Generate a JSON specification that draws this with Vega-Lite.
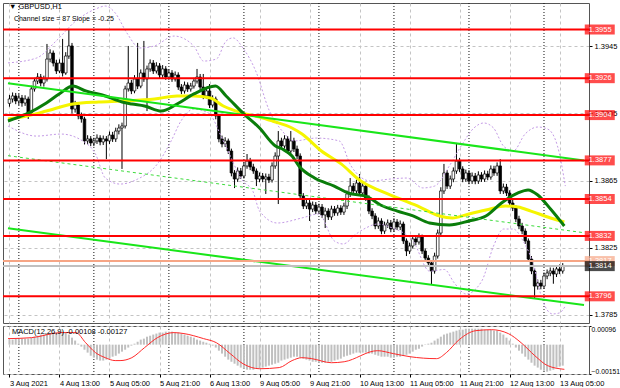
{
"$schema": "https://vega.github.io/schema/vega-lite/v6.json",
"background": "white",
"padding": {"left": 1, "top": 2, "right": 4, "bottom": 0},
"spacing": 1,
"config": {"view": {"stroke": "#555"}, "font": "Liberation Sans", "axis": {"labelFont": "Liberation Sans", "labelFontSize": 7.5, "labelColor": "#000", "tickColor": "#000"}},
"datasets": {
"days": [{"i":3},{"i":27},{"i":51},{"i":75},{"i":99},{"i":123},{"i":147},{"i":171}],
"candles": [
{"i":0,"o":1.39110,"h":1.39160,"l":1.39090,"c":1.39136},
{"i":1,"o":1.39136,"h":1.39175,"l":1.39115,"c":1.39154},
{"i":2,"o":1.39154,"h":1.39172,"l":1.39105,"c":1.39124},
{"i":3,"o":1.39124,"h":1.39165,"l":1.39100,"c":1.39142},
{"i":4,"o":1.39142,"h":1.39160,"l":1.39090,"c":1.39112},
{"i":5,"o":1.39112,"h":1.39158,"l":1.39095,"c":1.39136},
{"i":6,"o":1.39136,"h":1.39150,"l":1.39017,"c":1.39052},
{"i":7,"o":1.39052,"h":1.39215,"l":1.39040,"c":1.39196},
{"i":8,"o":1.39196,"h":1.39262,"l":1.39180,"c":1.39243},
{"i":9,"o":1.39243,"h":1.39290,"l":1.39225,"c":1.39267},
{"i":10,"o":1.39267,"h":1.39285,"l":1.39212,"c":1.39231},
{"i":11,"o":1.39231,"h":1.39275,"l":1.39210,"c":1.39255},
{"i":12,"o":1.39255,"h":1.39464,"l":1.39240,"c":1.39374},
{"i":13,"o":1.39374,"h":1.39432,"l":1.39355,"c":1.39410},
{"i":14,"o":1.39410,"h":1.39425,"l":1.39330,"c":1.39350},
{"i":15,"o":1.39350,"h":1.39370,"l":1.39285,"c":1.39303},
{"i":16,"o":1.39303,"h":1.39372,"l":1.39290,"c":1.39350},
{"i":17,"o":1.39350,"h":1.39494,"l":1.39270,"c":1.39291},
{"i":18,"o":1.39291,"h":1.39415,"l":1.39280,"c":1.39392},
{"i":19,"o":1.39392,"h":1.39553,"l":1.39375,"c":1.39452},
{"i":20,"o":1.39452,"h":1.39470,"l":1.39050,"c":1.39076},
{"i":21,"o":1.39076,"h":1.39125,"l":1.39055,"c":1.39100},
{"i":22,"o":1.39100,"h":1.39118,"l":1.39015,"c":1.39035},
{"i":23,"o":1.39035,"h":1.39055,"l":1.38995,"c":1.39017},
{"i":24,"o":1.39017,"h":1.39030,"l":1.38865,"c":1.38886},
{"i":25,"o":1.38886,"h":1.38920,"l":1.38866,"c":1.38898},
{"i":26,"o":1.38898,"h":1.38915,"l":1.38855,"c":1.38874},
{"i":27,"o":1.38874,"h":1.38905,"l":1.38855,"c":1.38886},
{"i":28,"o":1.38886,"h":1.38925,"l":1.38868,"c":1.38903},
{"i":29,"o":1.38903,"h":1.38920,"l":1.38860,"c":1.38880},
{"i":30,"o":1.38880,"h":1.38918,"l":1.38862,"c":1.38898},
{"i":31,"o":1.38898,"h":1.38915,"l":1.38778,"c":1.38886},
{"i":32,"o":1.38886,"h":1.38942,"l":1.38868,"c":1.38921},
{"i":33,"o":1.38921,"h":1.38940,"l":1.38880,"c":1.38898},
{"i":34,"o":1.38898,"h":1.38965,"l":1.38880,"c":1.38945},
{"i":35,"o":1.38945,"h":1.38985,"l":1.38925,"c":1.38963},
{"i":36,"o":1.38963,"h":1.38995,"l":1.38719,"c":1.38975},
{"i":37,"o":1.38975,"h":1.39215,"l":1.38960,"c":1.39196},
{"i":38,"o":1.39196,"h":1.39452,"l":1.39180,"c":1.39231},
{"i":39,"o":1.39231,"h":1.39250,"l":1.39165,"c":1.39184},
{"i":40,"o":1.39184,"h":1.39278,"l":1.39170,"c":1.39255},
{"i":41,"o":1.39255,"h":1.39470,"l":1.39195,"c":1.39213},
{"i":42,"o":1.39213,"h":1.39312,"l":1.39200,"c":1.39291},
{"i":43,"o":1.39291,"h":1.39482,"l":1.39238,"c":1.39255},
{"i":44,"o":1.39255,"h":1.39335,"l":1.39064,"c":1.39315},
{"i":45,"o":1.39315,"h":1.39372,"l":1.39298,"c":1.39350},
{"i":46,"o":1.39350,"h":1.39368,"l":1.39285,"c":1.39303},
{"i":47,"o":1.39303,"h":1.39355,"l":1.39288,"c":1.39333},
{"i":48,"o":1.39333,"h":1.39350,"l":1.39260,"c":1.39279},
{"i":49,"o":1.39279,"h":1.39338,"l":1.39262,"c":1.39315},
{"i":50,"o":1.39315,"h":1.39332,"l":1.39250,"c":1.39267},
{"i":51,"o":1.39267,"h":1.39312,"l":1.39250,"c":1.39291},
{"i":52,"o":1.39291,"h":1.39308,"l":1.39238,"c":1.39255},
{"i":53,"o":1.39255,"h":1.39300,"l":1.39240,"c":1.39279},
{"i":54,"o":1.39279,"h":1.39295,"l":1.39190,"c":1.39207},
{"i":55,"o":1.39207,"h":1.39225,"l":1.39165,"c":1.39184},
{"i":56,"o":1.39184,"h":1.39240,"l":1.39168,"c":1.39219},
{"i":57,"o":1.39219,"h":1.39235,"l":1.39178,"c":1.39196},
{"i":58,"o":1.39196,"h":1.39232,"l":1.39180,"c":1.39213},
{"i":59,"o":1.39213,"h":1.39262,"l":1.39198,"c":1.39243},
{"i":60,"o":1.39243,"h":1.39315,"l":1.39228,"c":1.39267},
{"i":61,"o":1.39267,"h":1.39285,"l":1.39190,"c":1.39207},
{"i":62,"o":1.39207,"h":1.39285,"l":1.39135,"c":1.39154},
{"i":63,"o":1.39154,"h":1.39205,"l":1.39138,"c":1.39184},
{"i":64,"o":1.39184,"h":1.39225,"l":1.39082,"c":1.39100},
{"i":65,"o":1.39100,"h":1.39158,"l":1.39085,"c":1.39136},
{"i":66,"o":1.39136,"h":1.39150,"l":1.39015,"c":1.39035},
{"i":67,"o":1.39035,"h":1.39048,"l":1.38878,"c":1.38898},
{"i":68,"o":1.38898,"h":1.38918,"l":1.38848,"c":1.38868},
{"i":69,"o":1.38868,"h":1.38908,"l":1.38850,"c":1.38886},
{"i":70,"o":1.38886,"h":1.38900,"l":1.38808,"c":1.38826},
{"i":71,"o":1.38826,"h":1.38840,"l":1.38675,"c":1.38695},
{"i":72,"o":1.38695,"h":1.38712,"l":1.38605,"c":1.38659},
{"i":73,"o":1.38659,"h":1.38728,"l":1.38642,"c":1.38707},
{"i":74,"o":1.38707,"h":1.38725,"l":1.38660,"c":1.38677},
{"i":75,"o":1.38677,"h":1.38758,"l":1.38662,"c":1.38737},
{"i":76,"o":1.38737,"h":1.38808,"l":1.38720,"c":1.38766},
{"i":77,"o":1.38766,"h":1.38785,"l":1.38712,"c":1.38731},
{"i":78,"o":1.38731,"h":1.38750,"l":1.38690,"c":1.38707},
{"i":79,"o":1.38707,"h":1.38722,"l":1.38617,"c":1.38659},
{"i":80,"o":1.38659,"h":1.38698,"l":1.38640,"c":1.38677},
{"i":81,"o":1.38677,"h":1.38695,"l":1.38640,"c":1.38659},
{"i":82,"o":1.38659,"h":1.38692,"l":1.38570,"c":1.38671},
{"i":83,"o":1.38671,"h":1.38690,"l":1.38635,"c":1.38653},
{"i":84,"o":1.38653,"h":1.38758,"l":1.38638,"c":1.38737},
{"i":85,"o":1.38737,"h":1.38818,"l":1.38720,"c":1.38796},
{"i":86,"o":1.38796,"h":1.38945,"l":1.38510,"c":1.38886},
{"i":87,"o":1.38886,"h":1.38905,"l":1.38838,"c":1.38856},
{"i":88,"o":1.38856,"h":1.38920,"l":1.38840,"c":1.38898},
{"i":89,"o":1.38898,"h":1.38915,"l":1.38808,"c":1.38826},
{"i":90,"o":1.38826,"h":1.38945,"l":1.38810,"c":1.38886},
{"i":91,"o":1.38886,"h":1.38905,"l":1.38820,"c":1.38838},
{"i":92,"o":1.38838,"h":1.38858,"l":1.38778,"c":1.38796},
{"i":93,"o":1.38796,"h":1.38812,"l":1.38540,"c":1.38558},
{"i":94,"o":1.38558,"h":1.38575,"l":1.38480,"c":1.38498},
{"i":95,"o":1.38498,"h":1.38538,"l":1.38480,"c":1.38516},
{"i":96,"o":1.38516,"h":1.38535,"l":1.38409,"c":1.38480},
{"i":97,"o":1.38480,"h":1.38525,"l":1.38462,"c":1.38504},
{"i":98,"o":1.38504,"h":1.38522,"l":1.38450,"c":1.38468},
{"i":99,"o":1.38468,"h":1.38512,"l":1.38450,"c":1.38492},
{"i":100,"o":1.38492,"h":1.38510,"l":1.38428,"c":1.38445},
{"i":101,"o":1.38445,"h":1.38488,"l":1.38367,"c":1.38468},
{"i":102,"o":1.38468,"h":1.38485,"l":1.38415,"c":1.38433},
{"i":103,"o":1.38433,"h":1.38500,"l":1.38415,"c":1.38480},
{"i":104,"o":1.38480,"h":1.38498,"l":1.38440,"c":1.38457},
{"i":105,"o":1.38457,"h":1.38505,"l":1.38440,"c":1.38486},
{"i":106,"o":1.38486,"h":1.38503,"l":1.38445,"c":1.38462},
{"i":107,"o":1.38462,"h":1.38518,"l":1.38445,"c":1.38498},
{"i":108,"o":1.38498,"h":1.38590,"l":1.38480,"c":1.38570},
{"i":109,"o":1.38570,"h":1.38665,"l":1.38552,"c":1.38617},
{"i":110,"o":1.38617,"h":1.38635,"l":1.38570,"c":1.38588},
{"i":111,"o":1.38588,"h":1.38655,"l":1.38572,"c":1.38635},
{"i":112,"o":1.38635,"h":1.38689,"l":1.38558,"c":1.38576},
{"i":113,"o":1.38576,"h":1.38638,"l":1.38560,"c":1.38617},
{"i":114,"o":1.38617,"h":1.38632,"l":1.38528,"c":1.38546},
{"i":115,"o":1.38546,"h":1.38562,"l":1.38450,"c":1.38468},
{"i":116,"o":1.38468,"h":1.38485,"l":1.38420,"c":1.38439},
{"i":117,"o":1.38439,"h":1.38455,"l":1.38360,"c":1.38379},
{"i":118,"o":1.38379,"h":1.38430,"l":1.38362,"c":1.38409},
{"i":119,"o":1.38409,"h":1.38425,"l":1.38330,"c":1.38349},
{"i":120,"o":1.38349,"h":1.38405,"l":1.38332,"c":1.38385},
{"i":121,"o":1.38385,"h":1.38418,"l":1.38368,"c":1.38397},
{"i":122,"o":1.38397,"h":1.38415,"l":1.38342,"c":1.38361},
{"i":123,"o":1.38361,"h":1.38425,"l":1.38345,"c":1.38403},
{"i":124,"o":1.38403,"h":1.38420,"l":1.38355,"c":1.38373},
{"i":125,"o":1.38373,"h":1.38412,"l":1.38355,"c":1.38391},
{"i":126,"o":1.38391,"h":1.38405,"l":1.38272,"c":1.38290},
{"i":127,"o":1.38290,"h":1.38305,"l":1.38200,"c":1.38230},
{"i":128,"o":1.38230,"h":1.38280,"l":1.38212,"c":1.38260},
{"i":129,"o":1.38260,"h":1.38322,"l":1.38245,"c":1.38302},
{"i":130,"o":1.38302,"h":1.38320,"l":1.38265,"c":1.38284},
{"i":131,"o":1.38284,"h":1.38335,"l":1.38268,"c":1.38313},
{"i":132,"o":1.38313,"h":1.38328,"l":1.38212,"c":1.38230},
{"i":133,"o":1.38230,"h":1.38245,"l":1.38170,"c":1.38188},
{"i":134,"o":1.38188,"h":1.38205,"l":1.38140,"c":1.38159},
{"i":135,"o":1.38159,"h":1.38175,"l":1.38033,"c":1.38111},
{"i":136,"o":1.38111,"h":1.38220,"l":1.38095,"c":1.38200},
{"i":137,"o":1.38200,"h":1.38358,"l":1.38185,"c":1.38337},
{"i":138,"o":1.38337,"h":1.38610,"l":1.38320,"c":1.38588},
{"i":139,"o":1.38588,"h":1.38749,"l":1.38570,"c":1.38695},
{"i":140,"o":1.38695,"h":1.38712,"l":1.38600,"c":1.38617},
{"i":141,"o":1.38617,"h":1.38680,"l":1.38600,"c":1.38659},
{"i":142,"o":1.38659,"h":1.38728,"l":1.38640,"c":1.38707},
{"i":143,"o":1.38707,"h":1.38874,"l":1.38690,"c":1.38766},
{"i":144,"o":1.38766,"h":1.38785,"l":1.38700,"c":1.38719},
{"i":145,"o":1.38719,"h":1.38735,"l":1.38640,"c":1.38659},
{"i":146,"o":1.38659,"h":1.38715,"l":1.38642,"c":1.38695},
{"i":147,"o":1.38695,"h":1.38712,"l":1.38628,"c":1.38647},
{"i":148,"o":1.38647,"h":1.38698,"l":1.38630,"c":1.38677},
{"i":149,"o":1.38677,"h":1.38695,"l":1.38628,"c":1.38647},
{"i":150,"o":1.38647,"h":1.38705,"l":1.38630,"c":1.38683},
{"i":151,"o":1.38683,"h":1.38700,"l":1.38642,"c":1.38659},
{"i":152,"o":1.38659,"h":1.38710,"l":1.38642,"c":1.38689},
{"i":153,"o":1.38689,"h":1.38708,"l":1.38652,"c":1.38671},
{"i":154,"o":1.38671,"h":1.38740,"l":1.38655,"c":1.38719},
{"i":155,"o":1.38719,"h":1.38738,"l":1.38678,"c":1.38695},
{"i":156,"o":1.38695,"h":1.38758,"l":1.38678,"c":1.38737},
{"i":157,"o":1.38737,"h":1.38778,"l":1.38570,"c":1.38588},
{"i":158,"o":1.38588,"h":1.38632,"l":1.38570,"c":1.38611},
{"i":159,"o":1.38611,"h":1.38630,"l":1.38558,"c":1.38576},
{"i":160,"o":1.38576,"h":1.38592,"l":1.38498,"c":1.38516},
{"i":161,"o":1.38516,"h":1.38535,"l":1.38468,"c":1.38486},
{"i":162,"o":1.38486,"h":1.38502,"l":1.38402,"c":1.38421},
{"i":163,"o":1.38421,"h":1.38440,"l":1.38360,"c":1.38379},
{"i":164,"o":1.38379,"h":1.38398,"l":1.38330,"c":1.38349},
{"i":165,"o":1.38349,"h":1.38365,"l":1.38272,"c":1.38290},
{"i":166,"o":1.38290,"h":1.38305,"l":1.38165,"c":1.38182},
{"i":167,"o":1.38182,"h":1.38200,"l":1.38092,"c":1.38111},
{"i":168,"o":1.38111,"h":1.38128,"l":1.37950,"c":1.38021},
{"i":169,"o":1.38021,"h":1.38060,"l":1.38000,"c":1.38039},
{"i":170,"o":1.38039,"h":1.38058,"l":1.38002,"c":1.38021},
{"i":171,"o":1.38021,"h":1.38102,"l":1.38005,"c":1.38081},
{"i":172,"o":1.38081,"h":1.38120,"l":1.38062,"c":1.38099},
{"i":173,"o":1.38099,"h":1.38132,"l":1.38080,"c":1.38111},
{"i":174,"o":1.38111,"h":1.38130,"l":1.38035,"c":1.38093},
{"i":175,"o":1.38093,"h":1.38145,"l":1.38075,"c":1.38123},
{"i":176,"o":1.38123,"h":1.38150,"l":1.38092,"c":1.38111},
{"i":177,"o":1.38111,"h":1.38158,"l":1.38095,"c":1.38140}
],
"bands": [
{"b":"u","i":-0.47,"p":1.39351},{"b":"u","i":8.65,"p":1.3938},{"b":"u","i":14.94,"p":1.39482},{"b":"u","i":21.23,"p":1.39601},{"b":"u","i":27.52,"p":1.39672},{"b":"u","i":30.66,"p":1.3969},{"b":"u","i":33.81,"p":1.39649},{"b":"u","i":37.58,"p":1.39529},{"b":"u","i":41.67,"p":1.3944},{"b":"u","i":46.38,"p":1.39452},{"b":"u","i":52.67,"p":1.39511},{"b":"u","i":58.96,"p":1.39452},{"b":"u","i":62.11,"p":1.39362},{"b":"u","i":66.19,"p":1.39374},{"b":"u","i":69.34,"p":1.39482},{"b":"u","i":71.54,"p":1.395},{"b":"u","i":74.69,"p":1.3944},{"b":"u","i":78.77,"p":1.39303},{"b":"u","i":83.18,"p":1.39064},{"b":"u","i":87.26,"p":1.38945},{"b":"u","i":91.04,"p":1.38886},{"b":"u","i":98.27,"p":1.38903},{"b":"u","i":105.5,"p":1.38886},{"b":"u","i":109.28,"p":1.38737},{"b":"u","i":115.57,"p":1.38647},{"b":"u","i":121.86,"p":1.38659},{"b":"u","i":127.2,"p":1.38665},{"b":"u","i":132.23,"p":1.38606},{"b":"u","i":136.0,"p":1.38617},{"b":"u","i":140.72,"p":1.38737},{"b":"u","i":144.5,"p":1.38856},{"b":"u","i":148.58,"p":1.38963},{"b":"u","i":151.73,"p":1.38993},{"b":"u","i":154.87,"p":1.38963},{"b":"u","i":158.02,"p":1.38856},{"b":"u","i":161.16,"p":1.38826},{"b":"u","i":164.94,"p":1.38927},{"b":"u","i":169.03,"p":1.38969},{"b":"u","i":172.17,"p":1.38957},{"b":"u","i":175.31,"p":1.38856},{"b":"u","i":177.83,"p":1.38617},
{"b":"l","i":-0.47,"p":1.38975},{"b":"l","i":8.65,"p":1.38915},{"b":"l","i":16.51,"p":1.38927},{"b":"l","i":23.43,"p":1.38886},{"b":"l","i":27.52,"p":1.38808},{"b":"l","i":30.66,"p":1.38665},{"b":"l","i":35.38,"p":1.38629},{"b":"l","i":41.04,"p":1.38659},{"b":"l","i":47.33,"p":1.38749},{"b":"l","i":51.73,"p":1.38886},{"b":"l","i":54.87,"p":1.39005},{"b":"l","i":58.96,"p":1.39076},{"b":"l","i":63.68,"p":1.39052},{"b":"l","i":68.4,"p":1.38886},{"b":"l","i":74.69,"p":1.38647},{"b":"l","i":77.83,"p":1.38588},{"b":"l","i":80.03,"p":1.38468},{"b":"l","i":85.69,"p":1.38397},{"b":"l","i":93.55,"p":1.38427},{"b":"l","i":98.9,"p":1.38451},{"b":"l","i":103.93,"p":1.3829},{"b":"l","i":106.76,"p":1.38272},{"b":"l","i":110.85,"p":1.38331},{"b":"l","i":113.99,"p":1.38367},{"b":"l","i":117.77,"p":1.38391},{"b":"l","i":122.48,"p":1.38367},{"b":"l","i":129.09,"p":1.3829},{"b":"l","i":134.43,"p":1.38110},{"b":"l","i":139.15,"p":1.38120},{"b":"l","i":142.3,"p":1.38040},{"b":"l","i":146.07,"p":1.37974},{"b":"l","i":151.1,"p":1.38051},{"b":"l","i":154.87,"p":1.3826},{"b":"l","i":158.02,"p":1.38361},{"b":"l","i":161.16,"p":1.38361},{"b":"l","i":164.31,"p":1.3829},{"b":"l","i":167.45,"p":1.38159},{"b":"l","i":170.6,"p":1.37932},{"b":"l","i":173.74,"p":1.37855},{"b":"l","i":175.94,"p":1.37861},{"b":"l","i":177.83,"p":1.37902}
],
"maSlow": [
{"i":-0.47,"p":1.39017},{"i":5.5,"p":1.39035},{"i":11.8,"p":1.39064},{"i":20.3,"p":1.39106},{"i":28.5,"p":1.39118},{"i":36.0,"p":1.39124},{"i":46.4,"p":1.39136},{"i":53.6,"p":1.39154},{"i":59.0,"p":1.39154},{"i":64.3,"p":1.39142},{"i":68.4,"p":1.39094},{"i":74.7,"p":1.39052},{"i":80.0,"p":1.39029},{"i":84.1,"p":1.39005},{"i":90.4,"p":1.38963},{"i":93.6,"p":1.38927},{"i":99.8,"p":1.38826},{"i":106.1,"p":1.38749},{"i":112.4,"p":1.38647},{"i":118.7,"p":1.38588},{"i":125.0,"p":1.3854},{"i":131.3,"p":1.38492},{"i":137.6,"p":1.38439},{"i":141.7,"p":1.38427},{"i":147.0,"p":1.38451},{"i":152.4,"p":1.38474},{"i":158.7,"p":1.38498},{"i":162.7,"p":1.38492},{"i":166.8,"p":1.38468},{"i":173.1,"p":1.38427},{"i":177.5,"p":1.38403}
],
"maFast": [
{"i":-0.47,"p":1.39005},{"i":5.5,"p":1.39047},{"i":11.8,"p":1.39112},{"i":15.9,"p":1.39166},{"i":20.3,"p":1.39213},{"i":24.4,"p":1.39184},{"i":30.7,"p":1.39154},{"i":36.0,"p":1.39118},{"i":39.2,"p":1.39106},{"i":43.2,"p":1.39094},{"i":48.6,"p":1.39064},{"i":53.6,"p":1.39106},{"i":59.0,"p":1.39166},{"i":65.9,"p":1.39213},{"i":69.3,"p":1.39154},{"i":74.7,"p":1.39052},{"i":80.0,"p":1.38963},{"i":85.1,"p":1.38856},{"i":87.3,"p":1.38838},{"i":90.4,"p":1.38796},{"i":92.6,"p":1.38737},{"i":97.6,"p":1.38665},{"i":103.9,"p":1.38617},{"i":108.3,"p":1.38576},{"i":114.6,"p":1.38552},{"i":118.7,"p":1.38504},{"i":124.1,"p":1.38468},{"i":129.1,"p":1.38439},{"i":134.4,"p":1.38397},{"i":140.7,"p":1.38385},{"i":147.0,"p":1.38409},{"i":152.4,"p":1.38439},{"i":157.4,"p":1.38516},{"i":162.7,"p":1.38576},{"i":165.9,"p":1.38594},{"i":169.0,"p":1.38564},{"i":173.1,"p":1.3848},{"i":177.5,"p":1.38379}
],
"channel": [
{"ln":"up","i":-0.47,"p":1.39230},{"ln":"up","i":183.8,"p":1.38769},
{"ln":"lo","i":-0.47,"p":1.38365},{"ln":"lo","i":183.8,"p":1.37908},
{"ln":"mid","i":-0.47,"p":1.38798},{"ln":"mid","i":183.8,"p":1.38339}
],
"levels": [
{"p":1.3955,"k":"level"},{"p":1.3926,"k":"level"},{"p":1.3904,"k":"level"},{"p":1.3877,"k":"level"},{"p":1.3854,"k":"level"},{"p":1.3832,"k":"level"},{"p":1.3796,"k":"level"},{"p":1.3817,"k":"ask"},{"p":1.3814,"k":"bid"}
],
"hist": [
{"i":0,"v":0.00026},{"i":1,"v":0.00026},{"i":2,"v":0.00031},{"i":3,"v":0.00031},{"i":4,"v":0.00031},{"i":5,"v":0.00031},{"i":6,"v":0.00031},{"i":7,"v":0.00036},{"i":8,"v":0.00041},
{"i":9,"v":0.00046},{"i":10,"v":0.00052},{"i":11,"v":0.00052},{"i":12,"v":0.00057},{"i":13,"v":0.00057},{"i":14,"v":0.00062},{"i":15,"v":0.00062},{"i":16,"v":0.00067},{"i":17,"v":0.00067},{"i":18,"v":0.00062},
{"i":19,"v":0.00052},{"i":20,"v":0.00036},{"i":21,"v":0.00021},{"i":22,"v":0.00005},
{"i":23,"v":-0.0001},{"i":24,"v":-0.00026},{"i":25,"v":-0.00041},{"i":26,"v":-0.00057},{"i":27,"v":-0.00067},{"i":28,"v":-0.00077},{"i":29,"v":-0.00082},
{"i":30,"v":-0.00082},{"i":31,"v":-0.00077},{"i":32,"v":-0.00072},{"i":33,"v":-0.00062},{"i":34,"v":-0.00057},
{"i":35,"v":-0.00046},{"i":36,"v":-0.00036},{"i":37,"v":-0.00026},{"i":38,"v":-0.00015},{"i":39,"v":-0.00005},
{"i":40,"v":0.00005},{"i":41,"v":0.00015},{"i":42,"v":0.00026},{"i":43,"v":0.00031},{"i":44,"v":0.00041},{"i":45,"v":0.00046},{"i":46,"v":0.00052},
{"i":47,"v":0.00057},{"i":48,"v":0.00062},{"i":49,"v":0.00062},{"i":50,"v":0.00067},{"i":51,"v":0.00067},{"i":52,"v":0.00067},
{"i":53,"v":0.00062},{"i":54,"v":0.00062},{"i":55,"v":0.00057},{"i":56,"v":0.00052},{"i":57,"v":0.00046},{"i":58,"v":0.00041},{"i":59,"v":0.00036},{"i":60,"v":0.00026},{"i":61,"v":0.00021},{"i":62,"v":0.00015},
{"i":63,"v":0.0001},{"i":64,"v":0.00005},
{"i":65,"v":-0.00005},{"i":66,"v":-0.00015},{"i":67,"v":-0.00031},{"i":68,"v":-0.00046},{"i":69,"v":-0.00062},{"i":70,"v":-0.00077},{"i":71,"v":-0.00088},{"i":72,"v":-0.00098},{"i":73,"v":-0.00108},{"i":74,"v":-0.00118},{"i":75,"v":-0.00124},
{"i":76,"v":-0.00129},{"i":77,"v":-0.00129},{"i":78,"v":-0.00129},{"i":79,"v":-0.00124},{"i":80,"v":-0.00124},{"i":81,"v":-0.00118},
{"i":82,"v":-0.00113},{"i":83,"v":-0.00108},{"i":84,"v":-0.00103},{"i":85,"v":-0.00098},{"i":86,"v":-0.00093},{"i":87,"v":-0.00082},{"i":88,"v":-0.00077},{"i":89,"v":-0.00072},
{"i":90,"v":-0.00067},{"i":91,"v":-0.00062},{"i":92,"v":-0.00062},{"i":93,"v":-0.00067},{"i":94,"v":-0.00072},{"i":95,"v":-0.00077},{"i":96,"v":-0.00082},
{"i":97,"v":-0.00088},{"i":98,"v":-0.00088},{"i":99,"v":-0.00093},{"i":100,"v":-0.00093},{"i":101,"v":-0.00093},{"i":102,"v":-0.00088},{"i":103,"v":-0.00088},
{"i":104,"v":-0.00082},{"i":105,"v":-0.00077},{"i":106,"v":-0.00072},{"i":107,"v":-0.00062},{"i":108,"v":-0.00057},{"i":109,"v":-0.00052},{"i":110,"v":-0.00046},{"i":111,"v":-0.00041},{"i":112,"v":-0.00041},
{"i":113,"v":-0.00041},{"i":114,"v":-0.00041},{"i":115,"v":-0.00046},{"i":116,"v":-0.00046},{"i":117,"v":-0.00052},{"i":118,"v":-0.00057},
{"i":119,"v":-0.00062},{"i":120,"v":-0.00062},{"i":121,"v":-0.00062},{"i":122,"v":-0.00067},{"i":123,"v":-0.00067},{"i":124,"v":-0.00062},{"i":125,"v":-0.00062},
{"i":126,"v":-0.00057},{"i":127,"v":-0.00052},{"i":128,"v":-0.00046},{"i":129,"v":-0.00036},{"i":130,"v":-0.00026},{"i":131,"v":-0.00021},{"i":132,"v":-0.0001},
{"i":133,"v":0.00002},{"i":134,"v":0.00005},{"i":135,"v":0.0001},{"i":136,"v":0.00021},{"i":137,"v":0.00031},{"i":138,"v":0.00041},{"i":139,"v":0.00052},{"i":140,"v":0.00057},{"i":141,"v":0.00062},{"i":142,"v":0.00067},{"i":143,"v":0.00072},
{"i":144,"v":0.00077},{"i":145,"v":0.00077},{"i":146,"v":0.00082},{"i":147,"v":0.00082},{"i":148,"v":0.00082},{"i":149,"v":0.00082},{"i":150,"v":0.00082},{"i":151,"v":0.00082},{"i":152,"v":0.00077},{"i":153,"v":0.00077},{"i":154,"v":0.00077},{"i":155,"v":0.00072},{"i":156,"v":0.00072},
{"i":157,"v":0.00062},{"i":158,"v":0.00052},{"i":159,"v":0.00036},{"i":160,"v":0.00021},{"i":161,"v":0.00005},
{"i":162,"v":-0.00015},{"i":163,"v":-0.00031},{"i":164,"v":-0.00046},{"i":165,"v":-0.00062},{"i":166,"v":-0.00077},{"i":167,"v":-0.00093},{"i":168,"v":-0.00108},{"i":169,"v":-0.00118},{"i":170,"v":-0.00129},
{"i":171,"v":-0.00134},{"i":172,"v":-0.00139},{"i":173,"v":-0.00134},{"i":174,"v":-0.00129},{"i":175,"v":-0.00118},
{"i":176,"v":-0.00113},{"i":177,"v":-0.00108}
],
"signal": [
{"i":-0.47,"v":0.00031},{"i":7.08,"v":0.00036},{"i":16.51,"v":0.00062},{"i":21.23,"v":0.00062},{"i":24.37,"v":0.0001},{"i":27.52,"v":-0.00041},{"i":30.66,"v":-0.00067},{"i":33.81,"v":-0.00082},{"i":35.38,"v":-0.00082},{"i":39.15,"v":-0.00067},{"i":43.24,"v":-0.00015},{"i":47.33,"v":0.00036},{"i":52.67,"v":0.00062},{"i":55.82,"v":0.00057},{"i":62.11,"v":0.00031},{"i":66.19,"v":0.0001},{"i":70.6,"v":-0.00046},{"i":74.69,"v":-0.00098},{"i":80.03,"v":-0.00124},{"i":86.32,"v":-0.00118},{"i":90.41,"v":-0.00082},{"i":93.55,"v":-0.00067},{"i":96.7,"v":-0.00072},{"i":102.99,"v":-0.00093},{"i":107.08,"v":-0.00088},{"i":117.77,"v":-0.00031},{"i":122.8,"v":-0.00046},{"i":128.14,"v":-0.00062},{"i":136.64,"v":-0.00072},{"i":139.78,"v":-0.00041},{"i":143.87,"v":0.00026},{"i":149.21,"v":0.00072},{"i":154.25,"v":0.00077},{"i":159.59,"v":0.00057},{"i":163.68,"v":0.0001},{"i":168.08,"v":-0.00057},{"i":172.17,"v":-0.00108},{"i":177.52,"v":-0.00127}
]
},
"vconcat": [
{
"width": 586, "height": 320,
"layer": [
{"data": {"name": "days"}, "mark": {"type": "rule", "color": "#111", "strokeDash": [1, 2], "strokeWidth": 1},
 "encoding": {"x": {"field": "i", "type": "quantitative", "title": null, "scale": {"domain": [-0.47, 183.8], "nice": false, "zero": false},
  "axis": {"values": [0,8,16,24,32,40,48,56,64,72,80,88,96,104,112,120,128,136,144,152,160,168,176], "labels": false, "ticks": false, "domain": false, "grid": true, "gridColor": "#c4c4c4", "gridDash": [3, 3]}}}},
{"data": {"name": "candles"}, "mark": {"type": "rule", "color": "#000", "strokeWidth": 1},
 "encoding": {"x": {"field": "i", "type": "quantitative", "title": null},
  "y": {"field": "l", "type": "quantitative", "title": null, "scale": {"domain": [1.37801, 1.39708], "nice": false, "zero": false},
   "axis": {"orient": "right", "values": [1.3785,1.3805,1.3825,1.3845,1.3865,1.3885,1.3905,1.3925,1.3945,1.3965], "format": ".4f", "grid": true, "gridColor": "#c4c4c4", "gridDash": [3, 3], "tickSize": 3, "labelPadding": 2, "domain": false}},
  "y2": {"field": "h"}}},
{"data": {"name": "candles"}, "mark": {"type": "bar", "width": 2.6, "stroke": "#000", "strokeWidth": 0.7},
 "encoding": {"x": {"field": "i", "type": "quantitative", "title": null},
  "y": {"field": "o", "type": "quantitative", "title": null}, "y2": {"field": "c"},
  "fill": {"condition": {"test": "datum.c > datum.o", "value": "#ffffff"}, "value": "#000000"}}},
{"data": {"name": "bands"}, "mark": {"type": "line", "color": "#c49be6", "strokeWidth": 1, "strokeDash": [2, 2], "interpolate": "monotone", "clip": true},
 "encoding": {"x": {"field": "i", "type": "quantitative", "title": null}, "y": {"field": "p", "type": "quantitative", "title": null}, "detail": {"field": "b"}}},
{"data": {"name": "maSlow"}, "mark": {"type": "line", "color": "#f5f500", "strokeWidth": 3, "interpolate": "monotone", "clip": true},
 "encoding": {"x": {"field": "i", "type": "quantitative", "title": null}, "y": {"field": "p", "type": "quantitative", "title": null}}},
{"data": {"name": "maFast"}, "mark": {"type": "line", "color": "#0a7d0a", "strokeWidth": 3, "interpolate": "monotone", "clip": true},
 "encoding": {"x": {"field": "i", "type": "quantitative", "title": null}, "y": {"field": "p", "type": "quantitative", "title": null}}},
{"data": {"name": "channel"}, "transform": [{"filter": "datum.ln != 'mid'"}], "mark": {"type": "line", "color": "#19e619", "strokeWidth": 2, "clip": true},
 "encoding": {"x": {"field": "i", "type": "quantitative", "title": null}, "y": {"field": "p", "type": "quantitative", "title": null}, "detail": {"field": "ln"}}},
{"data": {"name": "channel"}, "transform": [{"filter": "datum.ln == 'mid'"}], "mark": {"type": "line", "color": "#3ddc3d", "strokeWidth": 1, "strokeDash": [3, 3], "clip": true},
 "encoding": {"x": {"field": "i", "type": "quantitative", "title": null}, "y": {"field": "p", "type": "quantitative", "title": null}}},
{"data": {"name": "levels"}, "mark": {"type": "rule"},
 "encoding": {"y": {"field": "p", "type": "quantitative", "title": null},
  "color": {"field": "k", "type": "nominal", "scale": {"domain": ["level", "ask", "bid"], "range": ["#ff0000", "#f6a585", "#c0c0c0"]}, "legend": null},
  "strokeWidth": {"field": "k", "type": "nominal", "scale": {"domain": ["level", "ask", "bid"], "range": [2, 2, 1]}, "legend": null}}},
{"data": {"name": "levels"}, "transform": [{"filter": "datum.k != 'bid'"}], "mark": {"type": "tick", "orient": "horizontal", "size": 30, "thickness": 10},
 "encoding": {"x": {"datum": 188.84, "type": "quantitative"}, "y": {"field": "p", "type": "quantitative", "title": null},
  "color": {"field": "k", "type": "nominal", "scale": {"domain": ["level", "ask", "bid"], "range": ["#ff0000", "#ff6633", "#000000"]}, "legend": null}}},
{"data": {"name": "levels"}, "transform": [{"filter": "datum.k != 'bid'"}], "mark": {"type": "text", "align": "left", "baseline": "middle", "color": "#ffffff", "fontSize": 7.5, "font": "Liberation Sans"},
 "encoding": {"x": {"datum": 185.3, "type": "quantitative"}, "y": {"field": "p", "type": "quantitative", "title": null}, "text": {"field": "p", "type": "quantitative", "format": ".4f"}}},
{"data": {"name": "levels"}, "transform": [{"filter": "datum.k == 'bid'"}], "mark": {"type": "tick", "orient": "horizontal", "size": 30, "thickness": 10, "color": "#000000"},
 "encoding": {"x": {"datum": 188.84, "type": "quantitative"}, "y": {"field": "p", "type": "quantitative", "title": null}}},
{"data": {"name": "levels"}, "transform": [{"filter": "datum.k == 'bid'"}], "mark": {"type": "text", "align": "left", "baseline": "middle", "color": "#ffffff", "fontSize": 7.5, "font": "Liberation Sans"},
 "encoding": {"x": {"datum": 185.3, "type": "quantitative"}, "y": {"field": "p", "type": "quantitative", "title": null}, "text": {"field": "p", "type": "quantitative", "format": ".4f"}}},
{"data": {"values": [{"t": "▼ GBPUSD,H1"}]}, "mark": {"type": "text", "align": "left", "baseline": "middle", "color": "#000", "fontSize": 7.5, "font": "Liberation Sans"},
 "encoding": {"x": {"datum": -0.16, "type": "quantitative"}, "y": {"datum": 1.39684, "type": "quantitative"}, "text": {"field": "t"}}},
{"data": {"values": [{"t": "Channel size = 87 Slope = -0.25"}]}, "mark": {"type": "text", "align": "left", "baseline": "middle", "color": "#000", "fontSize": 7, "font": "Liberation Sans"},
 "encoding": {"x": {"datum": 1.42, "type": "quantitative"}, "y": {"datum": 1.39613, "type": "quantitative"}, "text": {"field": "t"}}}
]
},
{
"width": 586, "height": 48,
"layer": [
{"data": {"name": "days"}, "mark": {"type": "rule", "color": "#111", "strokeDash": [1, 2], "strokeWidth": 1},
 "encoding": {"x": {"field": "i", "type": "quantitative", "title": null, "scale": {"domain": [-0.47, 183.8], "nice": false, "zero": false},
  "axis": {"values": [0,8,16,24,32,40,48,56,64,72,80,88,96,104,112,120,128,136,144,152,160,168,176], "grid": true, "gridColor": "#c4c4c4", "gridDash": [3, 3], "domain": false, "tickSize": 3,
   "tickOpacity": {"condition": {"test": "datum.value % 16 == 0", "value": 1}, "value": 0},
   "labelAlign": "left", "labelFlush": false, "labelOverlap": false, "labelPadding": 2, "labelBound": false,
   "labelExpr": "datum.value==0?'3 Aug 2021':datum.value==16?'4 Aug 13:00':datum.value==32?'5 Aug 05:00':datum.value==48?'5 Aug 21:00':datum.value==64?'6 Aug 13:00':datum.value==80?'9 Aug 05:00':datum.value==96?'9 Aug 21:00':datum.value==112?'10 Aug 13:00':datum.value==128?'11 Aug 05:00':datum.value==144?'11 Aug 21:00':datum.value==160?'12 Aug 13:00':datum.value==176?'13 Aug 05:00':''"}}}},
{"data": {"name": "hist"}, "mark": {"type": "bar", "width": 2, "color": "#c0c0c0"},
 "encoding": {"x": {"field": "i", "type": "quantitative", "title": null},
  "y": {"field": "v", "type": "quantitative", "title": null, "scale": {"domain": [-0.00151, 0.00096], "nice": false, "zero": false},
   "axis": {"orient": "right", "values": [0.00096, 0, -0.00151], "grid": true, "gridColor": "#c4c4c4", "gridDash": [3, 3], "tickSize": 2, "labelPadding": 0, "domain": false, "labelFontSize": 6.8,
    "labelExpr": "datum.value == 0 ? '0.00' : format(datum.value, '.5f')",
    "labelBaseline": {"condition": [{"test": "datum.value > 0.0005", "value": "top"}, {"test": "datum.value < -0.001", "value": "bottom"}], "value": "middle"}}}}},
{"data": {"name": "signal"}, "mark": {"type": "line", "color": "#ff2a2a", "strokeWidth": 1, "interpolate": "monotone", "clip": true},
 "encoding": {"x": {"field": "i", "type": "quantitative", "title": null}, "y": {"field": "v", "type": "quantitative", "title": null}}},
{"data": {"values": [{"t": "MACD(12,26,9) -0.00108 -0.00127"}]}, "mark": {"type": "text", "align": "left", "baseline": "middle", "color": "#000", "fontSize": 7.5, "font": "Liberation Sans"},
 "encoding": {"x": {"datum": 0.79, "type": "quantitative"}, "y": {"datum": 0.00065, "type": "quantitative"}, "text": {"field": "t"}}}
]
}
]
}
